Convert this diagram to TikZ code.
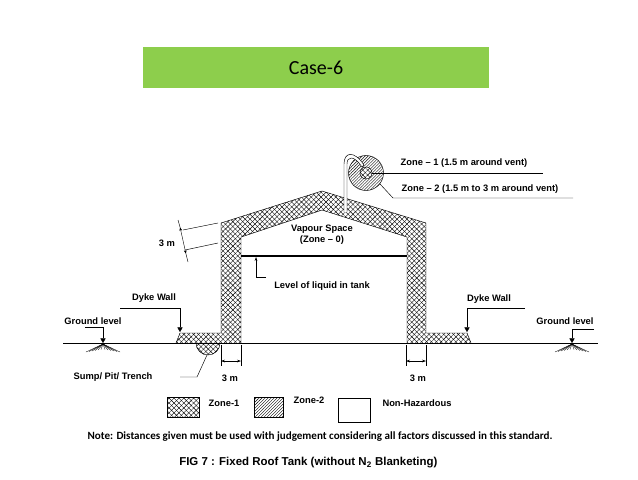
\documentclass[tikz,border=0pt]{standalone}
\usepackage{fontspec}
\setmainfont{Liberation Sans}
\newfontfamily\calfnt{Carlito}
\usetikzlibrary{patterns.meta,arrows.meta}
\definecolor{ttlgreen}{HTML}{8DCE4C}
\tikzset{
 lbl/.style={font=\fontsize{7}{8}\selectfont\bfseries, inner sep=0pt},
 zone1/.style={pattern={Lines[angle=45,distance=2.6pt,line width=0.3pt]},postaction={pattern={Lines[angle=-45,distance=2.6pt,line width=0.3pt]}}},
 zone2/.style={pattern={Lines[angle=45,distance=1.6pt,line width=0.3pt]}},
 tri/.style={-{Triangle[width=4pt,length=3.5pt]}},
 dim/.style={{Stealth[length=3pt,width=2pt]}-{Stealth[length=3pt,width=2pt]},line width=0.3pt},
 thin/.style={line width=0.35pt}
}
\begin{document}
\begin{tikzpicture}[x=0.75pt,y=-0.75pt]
\useasboundingbox (0,0) rectangle (638,479);
% title
\node[fill=ttlgreen,minimum width=346*0.75pt,minimum height=41*0.75pt,inner sep=0pt,font=\calfnt\fontsize{15}{17}\selectfont] (title) at (316,67.5) {Case-6};
% vent zone circles
\draw[thin,zone2] (366,173) circle (17.5);
\fill[white] (366,173) circle (6);
\draw[thin,zone1] (366,173) circle (6);
% zone 1 region
\path[thin,zone1,even odd rule] (180,333) -- (221,333) -- (221,223) -- (322,191) -- (426,223) -- (426,333) -- (467,333) -- (471,343) -- (176,343) -- cycle
 (241,343) -- (241,237) -- (322,210) -- (407,237) -- (407,343) -- cycle;
\draw[thin] (180,333) -- (221,333) -- (221,223) -- (322,191) -- (426,223) -- (426,333) -- (467,333);
\draw[thin] (241,343) -- (241,237) -- (322,210) -- (407,237) -- (407,343);
\draw[thin] (176,343) -- (180,333);
\draw[thin] (467,333) -- (471,343);
% sump
\fill[white] (196,343) arc (180:0:12);
\draw[thin,zone1] (196,343) arc (180:0:12);
% ground line
\draw[thin] (63,343) -- (598,343);
% liquid level
\draw[line width=1.2pt] (241,256) -- (407,256);
\coordinate (lq) at (256,257);
\draw[thin,-{Stealth[length=3pt,width=2pt]}] (266,277) -- (256,277) -- (lq);
\node[lbl] (lqt) at (322,286) {Level of liquid in tank};
\node[lbl,align=center] (vap) at (322,235) {Vapour Space\\(Zone -- 0)};
% vent pipe
\draw[thin,fill=white] (344,212) -- (344,164) .. controls (344,152) and (354,150) .. (364,165) -- (362,167) .. controls (354,155) and (347,156) .. (347,164) -- (347,212);
% vent labels
\node[lbl] (z1t) at (464,163) {Zone -- 1 (1.5 m around vent)};
\node[lbl] (z2t) at (480,189) {Zone -- 2 (1.5 m to 3 m around vent)};
\draw[thin] (372,173) -- (543,173);
\draw[thin] (380,184) -- (393,198) -- (573,198);
% 3 m slant dimension
\draw[thin] (183,230) -- (218,223);
\draw[thin] (185,250) -- (218,243);
\draw[dim] (180,227) -- (186,254);
\draw[thin] (178,220) -- (180,227) (186,254) -- (188,262);
\node[lbl] (d0) at (167,243) {3 m};
% dyke left
\draw[thin,tri] (120,308) -- (180,308) -- (180,332);
\node[lbl] (dwl) at (154,298) {Dyke Wall};
\draw[thin,tri] (85,327) -- (103,327) -- (103,343);
\node[lbl] (gll) at (93,321) {Ground level};
\foreach \k in {0,...,5}{\draw[line width=0.25pt] (103,344) -- (86+\k*3,352-\k*0.5);\draw[line width=0.25pt] (103,344) -- (120-\k*3,352-\k*0.5);}
% dyke right
\draw[thin,tri] (525,308) -- (467,308) -- (467,332);
\node[lbl] (dwr) at (489,299) {Dyke Wall};
\draw[thin,tri] (594,329) -- (572,329) -- (572,343);
\node[lbl] (glr) at (565,321) {Ground level};
\foreach \k in {0,...,5}{\draw[line width=0.25pt] (572,344) -- (555+\k*3,352-\k*0.5);\draw[line width=0.25pt] (572,344) -- (589-\k*3,352-\k*0.5);}
% sump label
\draw[thin] (180,377) -- (197,377) -- (207,355);
\node[lbl] (sump) at (113,377) {Sump/ Pit/ Trench};
% bottom dims
\draw[thin] (221,345) -- (221,366) (241,345) -- (241,366) (406,345) -- (406,366) (426,345) -- (426,366);
\draw[dim] (221,361) -- (241,361);
\draw[dim] (406,361) -- (426,361);
\node[lbl] (d1) at (230,378) {3 m};
\node[lbl] (d2) at (418,378) {3 m};
% legend
\draw[thin,zone1] (167,397) rectangle (199,417);
\node[lbl] (l1) at (224,403) {Zone-1};
\draw[thin,zone2] (254,397) rectangle (283,417);
\node[lbl] (l2) at (309,400) {Zone-2};
\draw[thin] (338,398) rectangle (370,422);
\node[lbl] (l3) at (417,403) {Non-Hazardous};
\node[font=\calfnt\bfseries\fontsize{8.3}{10}\selectfont,inner sep=0pt] (note) at (320,437) {Note: Distances given must be used with judgement considering all factors discussed in this standard.};
\node[font=\fontsize{8.6}{10}\selectfont\bfseries,inner sep=0pt,anchor=west] (fig) at (179,463) {FIG 7 : Fixed Roof Tank (without N$_\mathbf{2}$ Blanketing)};
\end{tikzpicture}
\end{document}
